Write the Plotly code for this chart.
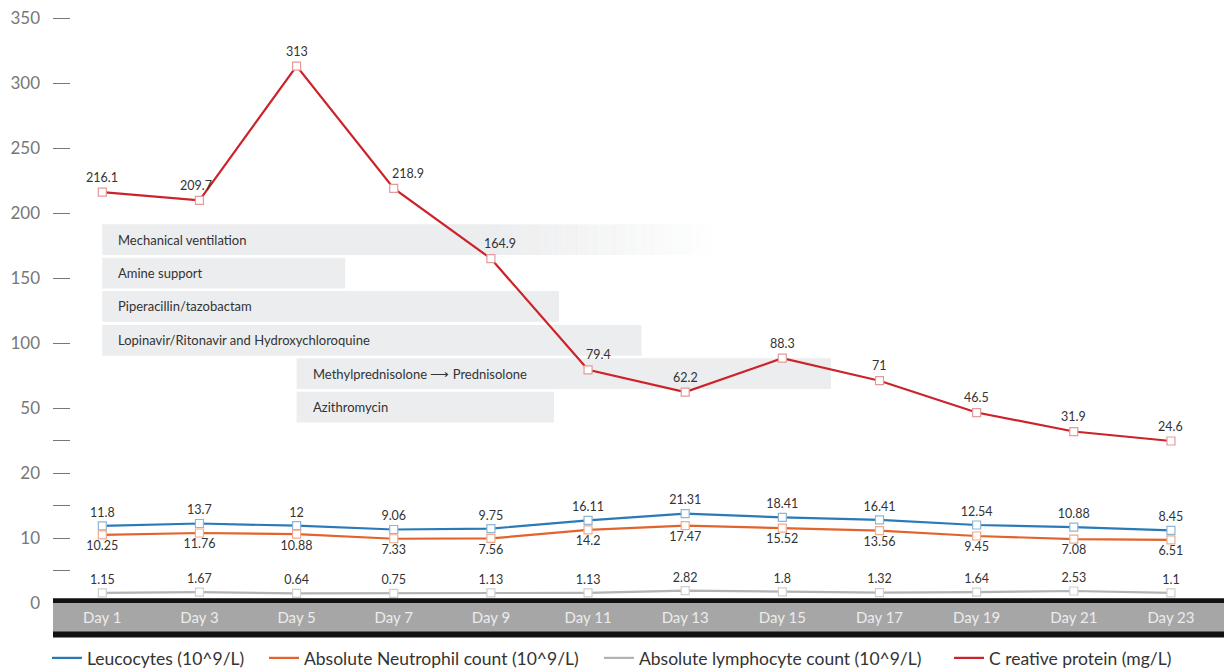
import plotly.graph_objects as go

# ---------------- data ----------------
days = [1, 3, 5, 7, 9, 11, 13, 15, 17, 19, 21, 23]
day_labels = ["Day %d" % d for d in days]
leucocytes = [11.8, 13.7, 12, 9.06, 9.75, 16.11, 21.31, 18.41, 16.41, 12.54, 10.88, 8.45]
neutrophils = [10.25, 11.76, 10.88, 7.33, 7.56, 14.2, 17.47, 15.52, 13.56, 9.45, 7.08, 6.51]
lymphocytes = [1.15, 1.67, 0.64, 0.75, 1.13, 1.13, 2.82, 1.8, 1.32, 1.64, 2.53, 1.1]
crp = [216.1, 209.7, 313, 218.9, 164.9, 79.4, 62.2, 88.3, 71, 46.5, 31.9, 24.6]

y_tickvals = [350, 300, 250, 200, 150, 100, 50, 25, 0, -25, -50, -75, -100]
y_ticktext = ["350", "300", "250", "200", "150", "100", "50", "", "20", "", "10", "", "0"]

treatments = ["Mechanical ventilation", "Amine support", "Piperacillin/tazobactam",
              "Lopinavir/Ritonavir and Hydroxychloroquine",
              "Methylprednisolone \u27f6 Prednisolone", "Azithromycin"]
treat_start = [1, 1, 1, 1, 5, 5]
treat_end = [13.7, 6, 10.4, 12.1, 16, 10.3]
fade_start_mv = 9.0  # where mechanical ventilation bar begins to fade

series_names = ["Leucocytes (10^9/L)", "Absolute Neutrophil count (10^9/L)",
                "Absolute lymphocyte count (10^9/L)", "C reative protein (mg/L)"]

# ---------------- layout geometry ----------------
W, H = 1224, 671
L, R, T, B = 53, 0, 10, 68
plot_h = H - T - B
PXU = 1.3  # pixels per unit
span = plot_h / PXU
main_range = [-100, -100 + span]
BOTTOM = H - B

def rng(zero_px):
    lo = (zero_px - BOTTOM) / PXU
    return [lo, lo + span]

px_per_day = 97.15 / 2
x_lo = 1 - (102.3 - L) / px_per_day
x_hi = x_lo + (W - L - R) / px_per_day

def paper_y(px):
    return (BOTTOM - px) / plot_h

def paper_x(px):
    return (px - L) / (W - L - R)

row_top_px = [224.3, 257.7, 291.0, 325.0, 358.3, 391.7]
row_h = 30.7
legend_line_x = [53, 270, 605, 955]

BAR_COL = "rgb(236,237,238)"
TXT = "#333333"
FONT_VAL = "Lato"
colors = ["#2a7ab8", "#e2632b", "#b3b3b3", "#cc2229"]
mcolors = ["#8db6d8", "#f0ab8c", "#cfcfcf", "#e59a9a"]

fig = go.Figure()
marker_common = dict(symbol="square", size=8)

fig.add_trace(go.Scatter(
    x=days, y=leucocytes, name=series_names[0], yaxis="y2", showlegend=False,
    mode="lines+markers+text", text=[str(v) for v in leucocytes],
    textposition="top center", textfont=dict(family=FONT_VAL, size=12.5, color=TXT),
    line=dict(color=colors[0], width=2.2),
    marker=dict(color="white", line=dict(color=mcolors[0], width=1.2), **marker_common),
    cliponaxis=False))
fig.add_trace(go.Scatter(
    x=days, y=neutrophils, name=series_names[1], yaxis="y3", showlegend=False,
    mode="lines+markers+text", text=[str(v) for v in neutrophils],
    textposition="bottom center", textfont=dict(family=FONT_VAL, size=12.5, color=TXT),
    line=dict(color=colors[1], width=2.2),
    marker=dict(color="white", line=dict(color=mcolors[1], width=1.2), **marker_common),
    cliponaxis=False))
fig.add_trace(go.Scatter(
    x=days, y=lymphocytes, name=series_names[2], yaxis="y4", showlegend=False,
    mode="lines+markers+text", text=[str(v) for v in lymphocytes],
    textposition="top center", textfont=dict(family=FONT_VAL, size=12.5, color=TXT),
    line=dict(color=colors[2], width=2.2),
    marker=dict(color="white", line=dict(color=mcolors[2], width=1.2), **marker_common),
    cliponaxis=False))
fig.add_trace(go.Scatter(
    x=days, y=crp, name=series_names[3], yaxis="y", showlegend=False,
    mode="lines+markers",
    line=dict(color=colors[3], width=2.2),
    marker=dict(color="white", line=dict(color=mcolors[3], width=1.2), **marker_common),
    cliponaxis=False))

# legend-only entries (lines only), one legend per entry for exact spacing
legend_keys = ["legend", "legend2", "legend3", "legend4"]
for i, nm in enumerate(series_names):
    fig.add_trace(go.Scatter(x=[None], y=[None], mode="lines", name=nm,
                             line=dict(color=colors[i], width=2.2),
                             legend=legend_keys[i], showlegend=True))

shapes = []
annotations = []

# CRP value labels
crp_xshift = [0, -3, 0, 14, 9, 10, 0, 0, 0, 0, 0, 0]
for d, v, xs in zip(days, crp, crp_xshift):
    annotations.append(dict(x=d, y=v, xref="x", yref="y", text=str(v), showarrow=False,
                            xanchor="center", yanchor="middle", xshift=xs, yshift=15,
                            font=dict(family=FONT_VAL, size=12.5, color=TXT)))

for i, name in enumerate(treatments):
    y1 = paper_y(row_top_px[i])
    y0 = paper_y(row_top_px[i] + row_h)
    if i == 0:
        shapes.append(dict(type="rect", xref="x", yref="paper", x0=treat_start[i], x1=fade_start_mv,
                           y0=y0, y1=y1, fillcolor=BAR_COL, line=dict(width=0), layer="below"))
        n = 24
        step = (treat_end[i] - fade_start_mv) / n
        for k in range(n):
            op = 1 - (k + 0.5) / n
            shapes.append(dict(type="rect", xref="x", yref="paper",
                               x0=fade_start_mv + k * step, x1=fade_start_mv + (k + 1) * step + 0.01,
                               y0=y0, y1=y1, fillcolor=BAR_COL, opacity=op,
                               line=dict(width=0), layer="below"))
    else:
        shapes.append(dict(type="rect", xref="x", yref="paper", x0=treat_start[i], x1=treat_end[i],
                           y0=y0, y1=y1, fillcolor=BAR_COL, line=dict(width=0), layer="below"))
    annotations.append(dict(x=treat_start[i], y=(y0 + y1) / 2, xref="x", yref="paper",
                            text=name, showarrow=False, xanchor="left", yanchor="middle",
                            xshift=14, font=dict(family=FONT_VAL, size=13, color=TXT)))

# bottom band
shapes.append(dict(type="rect", xref="paper", yref="paper", x0=0, x1=1,
                   y0=paper_y(632), y1=paper_y(602.5), fillcolor="#a6a6a6", line=dict(width=0), layer="below"))
shapes.append(dict(type="rect", xref="paper", yref="paper", x0=0, x1=1,
                   y0=paper_y(603), y1=paper_y(598.3), fillcolor="#111111", line=dict(width=0), layer="above"))
shapes.append(dict(type="rect", xref="paper", yref="paper", x0=0, x1=1,
                   y0=paper_y(637.5), y1=paper_y(631.5), fillcolor="#111111", line=dict(width=0), layer="above"))

hidden = dict(visible=False, overlaying="y", showgrid=False, zeroline=False, fixedrange=True)

legend_common = dict(orientation="h", xanchor="left", y=paper_y(640), yanchor="top",
                     font=dict(family="Lato", size=17.5, color="#333333"),
                     itemwidth=30, bgcolor="rgba(0,0,0,0)")
legends = {}
for i, key in enumerate(legend_keys):
    legends[key] = dict(x=paper_x(legend_line_x[i] - 6), **legend_common)

fig.update_layout(
    width=W, height=H,
    margin=dict(l=L, r=R, t=T, b=B, pad=0, autoexpand=False),
    paper_bgcolor="white", plot_bgcolor="white",
    showlegend=True,
    xaxis=dict(range=[x_lo, x_hi], tickvals=days, ticktext=day_labels,
               showgrid=False, zeroline=False, showline=False, ticks="",
               tickfont=dict(family="Lato", size=15, color="#ececec"), ticklabelstandoff=4),
    yaxis=dict(range=main_range, tickvals=y_tickvals, ticktext=y_ticktext,
               showgrid=False, zeroline=False, showline=False,
               ticks="inside", ticklen=17, tickwidth=1.3, tickcolor="#777777",
               ticklabelstandoff=12,
               tickfont=dict(family="Lato", size=17, color="#777777")),
    yaxis2=dict(range=rng(541.3), **hidden),
    yaxis3=dict(range=rng(548.3), **hidden),
    yaxis4=dict(range=rng(594.3), **hidden),
    shapes=shapes,
    annotations=annotations,
    **legends,
)

fig.write_html("out.html", config={"displayModeBar": False},
               post_script="document.body.style.margin='0px'; document.body.style.overflow='hidden';")
